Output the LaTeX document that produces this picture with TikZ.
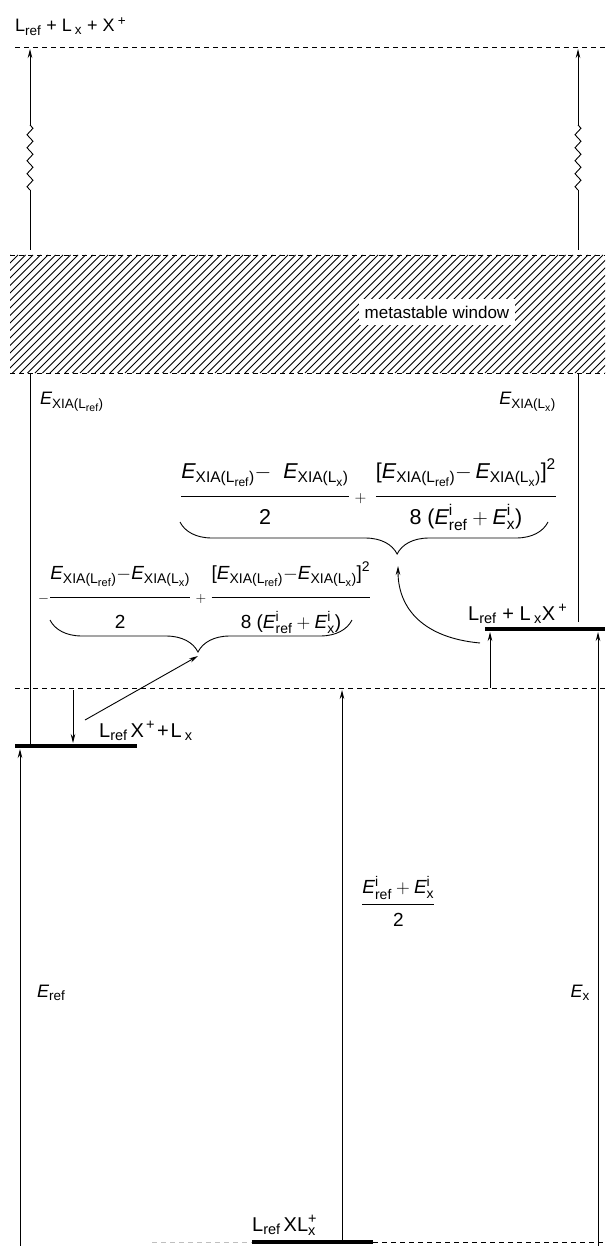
\documentclass[tikz,border=0pt]{standalone}
\usepackage{fix-cm}
\usepackage{amsmath}
\usepackage{fontspec}
\setmainfont{Liberation Sans}
\DeclareMathSizes{18}{18}{13.5}{10.5}
\DeclareMathSizes{19}{19}{14}{11}
\DeclareMathSizes{20}{20}{14.5}{11.5}
\DeclareMathSizes{21.5}{21.5}{15.5}{12}
\usetikzlibrary{arrows.meta,decorations.pathreplacing,decorations.pathmorphing}
\newcommand\tx[1]{\text{#1}}
\newcommand\EXr{\textit{E}_{\tx{XIA(L}_{\tx{ref}}\tx{)}}}
\newcommand\EXx{\textit{E}_{\tx{XIA(L}_{\tx{x}}\tx{)}}}
\newcommand\Eir{\textit{E}^{\tx{i}}_{\tx{ref}}}
\newcommand\Eix{\textit{E}^{\tx{i}}_{\tx{x}}}
\newcommand\splus{\mathbin{\scriptstyle +}}
\newcommand\tminus{\mathord{-}}
\newcommand\nstrut{\rule[-15pt]{0pt}{1pt}}
\newcommand\dstrut{\rule{0pt}{29pt}}
\newcommand\dstrutb{\rule{0pt}{25pt}}
\tikzset{
  lvl/.style={line width=4.5pt},
  dashlvl/.style={line width=0.9pt, dash pattern=on 5pt off 4pt},
  arr/.style={line width=0.9pt, -{Stealth[length=9pt,width=4.5pt]}},
  ln/.style={line width=0.9pt},
  lbl/.style={font=\fontsize{18}{21}\selectfont, inner sep=0pt},
  lvllbl/.style={font=\fontsize{20}{24}\selectfont, inner sep=0pt},
  frm/.style={font=\fontsize{19}{22}\selectfont, inner sep=0pt},
  zz/.style={line width=0.9pt, decorate, decoration={zigzag, segment length=13pt, amplitude=3pt}},
  hatch/.style={line width=0.8pt},
  brc/.style={line width=0.9pt, decorate},
}
\begin{document}
\begin{tikzpicture}[x=1pt,y=-1pt]
\useasboundingbox (0,0) rectangle (605,1246);
% ---------- top level ----------
\coordinate (topL) at (15,47);
\coordinate (topR) at (605,47);
\draw[dashlvl] (topL) -- (topR);
\node[lbl, anchor=base west] (toplbl) at (15,32) {L$_{\tx{ref}}$ + L\,$_{\tx{x}}$ + X\,$^{\tx{+}}$};
% ---------- metastable window ----------
\begin{scope}
  \clip (10,255) rectangle (605,373);
  \foreach \i in {0,...,100} {
    \pgfmathsetmacro\xx{-130+7.5*\i}
    \draw[hatch] (\xx,373) -- (\xx+118,255);
  }
\end{scope}
\draw[dashlvl] (10,255) -- (605,255);
\draw[dashlvl] (10,373) -- (605,373);
\node[lbl, font=\fontsize{17}{20}\selectfont, fill=white, inner xsep=6pt, inner ysep=7pt] (meta) at (437,312) {metastable window};
% ---------- wavy arrows to the top level ----------
\coordinate (a0) at (30,250); \coordinate (a1) at (30,190); \coordinate (a2) at (30,125); \coordinate (a3) at (30,49);
\draw[ln] (a0) -- (a1);
\draw[zz] (a1) -- (a2);
\draw[arr] (a2) -- (a3);
\coordinate (b0) at (578,250); \coordinate (b1) at (578,190); \coordinate (b2) at (578,125); \coordinate (b3) at (578,49);
\draw[ln] (b0) -- (b1);
\draw[zz] (b1) -- (b2);
\draw[arr] (b2) -- (b3);
% ---------- E_XIA labels ----------
\node[lbl, anchor=west] (exr) at (40,402) {$\EXr$};
\node[lbl, anchor=east] (exx) at (556,402) {$\EXx$};
% ---------- levels ----------
\coordinate (midL) at (15,688);
\coordinate (midR) at (605,688);
\draw[dashlvl] (midL) -- (midR);
% L_ref + L_x X+ level
\coordinate (rbL) at (485,629);
\coordinate (rbR) at (605,629);
\draw[lvl] (rbL) -- (rbR);
\node[lvllbl, anchor=base west] (rblbl) at (468,620) {L$_{\tx{ref}}$ + L\,$_{\tx{x}}$X\,$^{\tx{+}}$};
% L_ref X+ + L_x level
\coordinate (lbL) at (15,746);
\coordinate (lbR) at (137,746);
\draw[lvl] (lbL) -- (lbR);
\node[lvllbl, anchor=base west] (lblbl) at (99,737) {L$_{\tx{ref}}$\hspace{3pt}X\hspace{2pt}$^{\tx{+}}$\hspace{2pt}+\hspace{2pt}L\hspace{3pt}$_{\tx{x}}$};
% bottom level
\coordinate (btL) at (252,1242);
\coordinate (btR) at (373,1242);
\draw[lvl] (btL) -- (btR);
\draw[dashlvl] (btR) -- (605,1242);
\draw[dashlvl, gray!50] (152,1242) -- (btL);
\node[lvllbl, anchor=base west] (btlbl) at (252,1231) {L$_{\tx{ref}}$\hspace{3pt}XL$^{\tx{+}}_{\tx{x}}$};
% vertical lines
\draw[ln] (30,373) -- (30,744);
\draw[ln] (578,373) -- (578,622);
\draw[arr] (73,690) -- (73,743);
\draw[arr] (490,688) -- (490,632);
% long arrows from bottom
\draw[arr] (20,1246) -- (20,749);
\draw[arr] (342,1240) -- (342,690);
\draw[arr] (598,1246) -- (598,632);
% ---------- formulas ----------
\node[frm, font=\fontsize{21.5}{25}\selectfont, anchor=base west] (f1) at (180,502) {$\displaystyle \frac{\nstrut\EXr \tminus\;\; \EXx}{\dstrutb\tx{2}} \splus\, \frac{\nstrut\tx{[}\EXr \tminus\, \EXx\tx{]}^{\tx{2}}}{\dstrutb\tx{8 (}\Eir + \Eix\tx{)}}$};
\node[frm, anchor=base west] (f2) at (38,602) {$\displaystyle {\scriptstyle -}\frac{\nstrut\EXr \tminus \EXx}{\dstrut\tx{2}} \splus \frac{\nstrut\tx{[}\EXr \tminus \EXx\tx{]}^{\tx{2}}}{\dstrut\tx{8 (}\Eir + \Eix\tx{)}}$};
\coordinate (br1a) at (180,522); \coordinate (br1b) at (548,522);
\draw[brc, decoration={brace, mirror, amplitude=32pt, aspect=0.59}] (br1a) -- (br1b);
\coordinate (tip1) at (398,566);
\coordinate (br2a) at (50,620); \coordinate (br2b) at (352,620);
\draw[brc, decoration={brace, mirror, amplitude=32pt, aspect=0.49}] (br2a) -- (br2b);
\coordinate (tip2) at (198,656);
% connectors into the braces
\draw[arr] (480,643) .. controls (425,638) and (398,610) .. (tip1);
\draw[arr] (85,720) -- (tip2);
\node[frm, anchor=base west] (fm) at (361,909) {$\displaystyle \frac{\rule[-8pt]{0pt}{1pt}\Eir + \Eix}{\rule{0pt}{20pt}\tx{2}}$};
\node[lbl, anchor=west] (eref) at (37,993) {$\textit{E}_{\tx{ref}}$};
\node[lbl, anchor=east] (ex) at (590,993) {$\textit{E}_{\tx{x}}$};
\end{tikzpicture}
\end{document}
